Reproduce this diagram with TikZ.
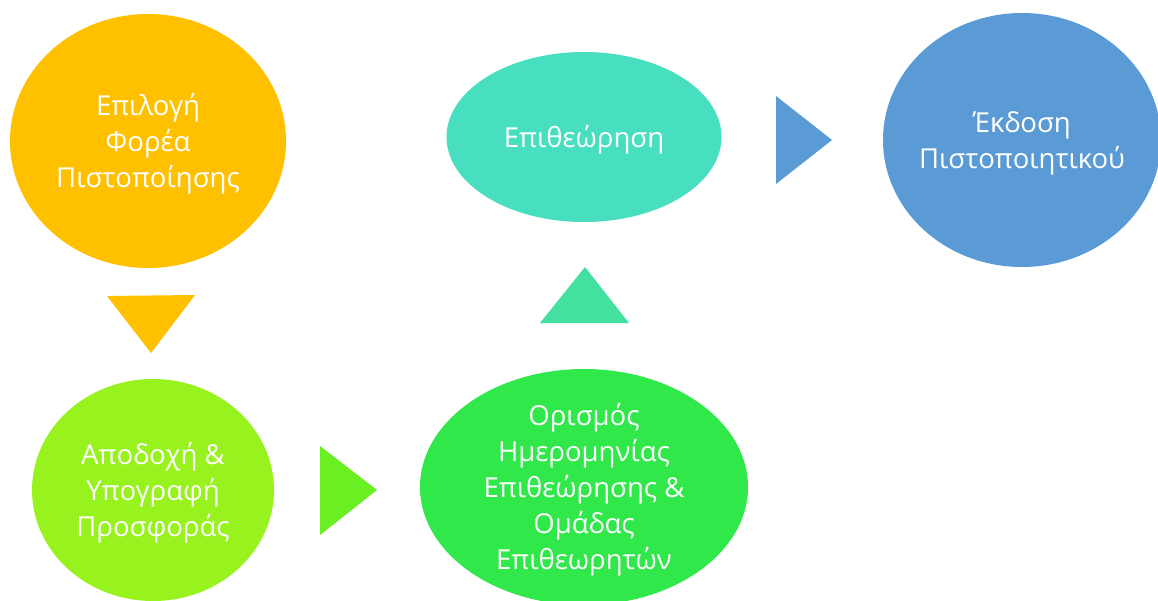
\documentclass[tikz,border=0pt]{standalone}
\usepackage{fontspec}
\setmainfont{Open Sans}
\usetikzlibrary{shapes.geometric}
\definecolor{cOrange}{HTML}{FFC000}
\definecolor{cLime}{HTML}{97F21E}
\definecolor{cLimeTri}{HTML}{6AF022}
\definecolor{cGreen}{HTML}{30E84A}
\definecolor{cTeal}{HTML}{48DFC0}
\definecolor{cTealTri}{HTML}{44E0A0}
\definecolor{cBlue}{HTML}{5B9BD5}
\begin{document}
\begin{tikzpicture}[x=1pt,y=-1pt,
  stage/.style={ellipse, inner sep=0pt, draw=none},
  caption/.style={align=center, text=white, inner sep=0pt, yshift=-3pt,
    font=\fontsize{27.5}{36}\selectfont}]
\useasboundingbox (0,0) rectangle (1158,600);
\clip (0,0) rectangle (1158,600);

% process stages (fixed-size ellipses, text set on top)
\node[stage, fill=cOrange, minimum width=276pt, minimum height=254pt] (sel) at (148,141) {};
\node[caption] (selt) at (sel) {Επιλογή\\Φορέα\\Πιστοποίησης};

\node[stage, fill=cLime, minimum width=242pt, minimum height=222pt] (acc) at (153,490) {};
\node[caption] (acct) at (acc) {Αποδοχή \&\\Υπογραφή\\Προσφοράς};

\node[stage, fill=cGreen, minimum width=328pt, minimum height=236pt] (plan) at (584,487) {};
\node[caption] (plant) at (plan) {Ορισμός\\Ημερομηνίας\\Επιθεώρησης \&\\Ομάδας\\Επιθεωρητών};

\node[stage, fill=cTeal, minimum width=275pt, minimum height=170pt] (insp) at (584,137) {};
\node[caption] (inspt) at (insp) {Επιθεώρηση};

\node[stage, fill=cBlue, minimum width=278pt, minimum height=254pt] (cert) at (1022,140) {};
\node[caption] (certt) at (cert) {Έκδοση\\Πιστοποιητικού};

% triangular pointers between stages
\fill[cOrange] (107,296) -- (195,295) -- (151,353) -- cycle;
\fill[cLimeTri] (320,446) -- (377,490) -- (320,535) -- cycle;
\fill[cTealTri] (540,323) -- (585,267) -- (629,323) -- cycle;
\fill[cBlue] (776,96) -- (832,140) -- (776,184) -- cycle;
\end{tikzpicture}
\end{document}
